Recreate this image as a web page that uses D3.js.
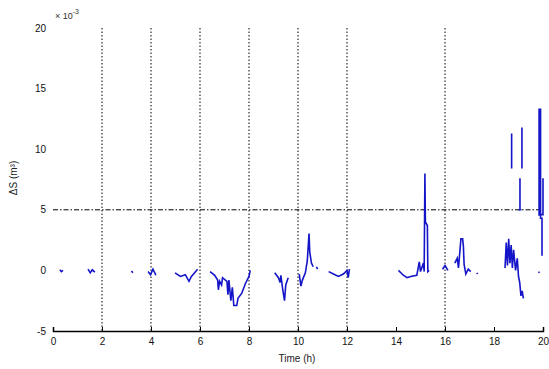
<!DOCTYPE html>
<html>
<head>
<meta charset="utf-8">
<script src="https://cdn.jsdelivr.net/npm/d3@7"></script>
<style>
  body { margin: 0; background: #fff; }
  text { font-family: "Liberation Sans", Arial, sans-serif; }
</style>
</head>
<body>
<script>
    // time (h) and storage change (x 1e-3 m^3), null = gap between records
    const time = [
        0.28, 0.34, 0.41, null,
        1.43, 1.52, 1.6, 1.71, null,
        3.2, 3.26, null,
        3.88, 3.98, 4.08, 4.2, null,
        4.98, 5.2, 5.4, 5.55, 5.65, 5.78, 5.9, null,
        6.41, 6.6, 6.72, 6.75, 6.8, 6.88, 6.92, 7.1, 7.14, 7.18, 7.26, 7.32, 7.38, 7.5, 7.55, 7.7, 7.85, 8.0, 8.05, null,
        9.05, 9.2, 9.27, 9.3, 9.38, 9.45, 9.5, 9.6, null,
        10.05, 10.12, 10.18, 10.3, 10.38, 10.45, 10.48, 10.55, 10.62, null,
        10.75, 10.8, null,
        11.25, 11.45, 11.65, 11.85, 12.0, 12.05, 12.1, null,
        14.1, 14.3, 14.45, 14.6, 14.85, 14.95, 15.0, 15.12, 15.15, 15.18, 15.2, 15.28, 15.3, 15.35, null,
        15.9, 16.0, 16.12, null,
        16.4, 16.5, 16.55, 16.65, 16.72, 16.75, 16.78, 16.85, 16.95, 17.05, null,
        17.3, 17.33, null,
        18.45, 18.5, 18.55, 18.6, 18.65, 18.7, 18.75, 18.8, 18.88, 18.95, 19.0, 19.05, 19.1, 19.15, 19.2, null,
        18.72, 18.72, null,
        19.14, 19.14, null,
        19.06, 19.06, 19.0, 19.12, null,
        19.82, 19.85, null,
        19.84, 19.84, 19.9, 19.9, 19.96, 19.96, null,
        20.0, 20.0, 19.92
    ];
    const ws = [
        0.05, -0.1, 0.0, null,
        0.1, -0.2, 0.05, -0.15, null,
        -0.05, -0.2, null,
        -0.1, -0.35, 0.1, -0.4, null,
        -0.2, -0.5, -0.35, -0.9, -0.5, -0.2, 0.1, null,
        -0.1, -0.4, -0.8, -1.6, -0.9, -1.2, -0.6, -0.9, -2.0, -0.8, -2.5, -1.4, -2.9, -2.9, -2.3, -1.9, -1.1, -0.5, 0.0, null,
        -0.2, -0.6, -1.0, -0.4, -1.6, -2.5, -1.2, -0.6, null,
        -0.3, -1.3, -0.8, -0.2, 0.8, 3.05, 1.5, 0.6, 0.3, null,
        0.3, 0.1, null,
        -0.1, -0.3, -0.5, -0.3, 0.0, -0.6, 0.1, null,
        0.0, -0.4, -0.6, -0.5, -0.4, 0.7, -0.1, 0.6, -0.1, 8.0, 4.0, 3.7, -0.1, 0.0, null,
        0.1, 0.4, 0.0, null,
        0.6, 1.0, 0.2, 2.6, 2.6, 2.0, 0.5, -0.3, 0.1, -0.1, null,
        -0.2, -0.3, null,
        0.2, 2.3, 0.4, 2.6, 0.6, 2.1, 0.2, 1.7, 0.0, 1.0, -0.5, -1.0, -2.1, -1.7, -2.3, null,
        11.3, 8.4, null,
        11.8, 8.4, null,
        7.6, 5.0, 5.0, 5.0, null,
        -0.2, -0.1, null,
        4.5, 13.3, 13.3, 4.3, 4.3, 1.2, null,
        7.6, 4.6, 4.6
    ];
    const xTicks = [0, 2, 4, 6, 8, 10, 12, 14, 16, 18, 20];
    const yTicks = [-5, 0, 5, 10, 15, 20];
    const eventTimes = [2, 4, 6, 8, 10, 12, 16];
    const threshold = 5;

    const width = 549, height = 369;
    const svg = d3.select("body").append("svg")
        .attr("width", width)
        .attr("height", height);

    const x = d3.scaleLinear().domain([0, 20]).range([53, 543]);
    const y = d3.scaleLinear().domain([-5, 20]).range([331, 28]);

    // dotted event lines
    svg.append("g")
        .attr("stroke", "#000")
        .attr("stroke-width", 1)
        .attr("stroke-dasharray", "1.5,2")
        .selectAll("line")
        .data(eventTimes)
        .join("line")
        .attr("x1", d => x(d)).attr("x2", d => x(d))
        .attr("y1", y(20)).attr("y2", y(-5));

    // threshold line (dash-dot)
    svg.append("line")
        .attr("x1", x(0)).attr("x2", x(20))
        .attr("y1", y(threshold)).attr("y2", y(threshold))
        .attr("stroke", "#000")
        .attr("stroke-width", 1)
        .attr("stroke-dasharray", "5,2,1.5,2");

    // data
    const pts = time.map((t, i) => [t, ws[i]]);
    const line = d3.line()
        .defined(d => d[0] != null && d[1] != null)
        .x(d => x(d[0]))
        .y(d => y(d[1]));
    svg.append("path")
        .datum(pts)
        .attr("fill", "none")
        .attr("stroke", "#1414c8")
        .attr("stroke-width", 1.6)
        .attr("d", line);

    // x axis
    const xAxis = svg.append("g")
        .attr("transform", `translate(0,${y(-5)})`)
        .call(d3.axisBottom(x).tickValues(xTicks).tickSize(-4).tickPadding(7).tickFormat(d3.format("d")));
    xAxis.select(".domain").attr("stroke-width", 1.5);
    xAxis.selectAll("text").attr("font-size", 10).attr("fill", "#111");

    // y tick labels only
    svg.append("g")
        .selectAll("text")
        .data(yTicks)
        .join("text")
        .attr("x", 46)
        .attr("y", d => y(d))
        .attr("dy", "0.35em")
        .attr("text-anchor", "end")
        .attr("font-size", 10)
        .attr("fill", "#111")
        .text(d => d);

    // exponent
    const ex = svg.append("text")
        .attr("x", 55).attr("y", 19)
        .attr("font-size", 9)
        .attr("fill", "#333");
    ex.append("tspan").text("\u00d7 10");
    ex.append("tspan").attr("dy", -5).attr("font-size", 7).text("-3");

    // axis labels
    svg.append("text")
        .attr("transform", "translate(17,178) rotate(-90)")
        .attr("text-anchor", "middle")
        .attr("font-size", 10)
        .attr("fill", "#222")
        .text("ΔS (m³)");

    svg.append("text")
        .attr("x", 297).attr("y", 362)
        .attr("text-anchor", "middle")
        .attr("font-size", 10)
        .attr("fill", "#222")
        .text("Time (h)");
</script>
</body>
</html>
